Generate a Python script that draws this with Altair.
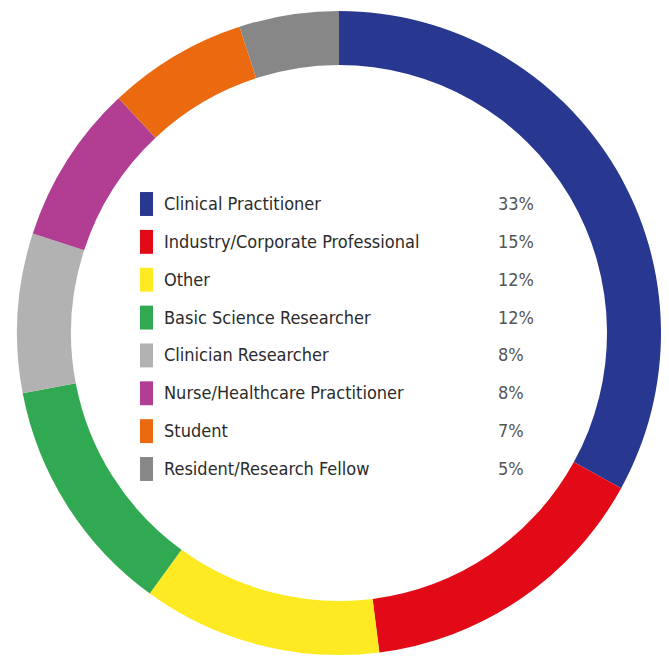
import altair as alt
import pandas as pd

categories = [
    "Clinical Practitioner",
    "Industry/Corporate Professional",
    "Other",
    "Basic Science Researcher",
    "Clinician Researcher",
    "Nurse/Healthcare Practitioner",
    "Student",
    "Resident/Research Fellow",
]
percents = [33, 15, 12, 12, 8, 8, 7, 5]
colors = ["#283891", "#E20A17", "#FDEA22", "#31A952", "#B2B2B2", "#B13E93", "#EB6A10", "#878787"]

df = pd.DataFrame({
    "category": categories,
    "pct": percents,
    "idx": list(range(len(categories))),
    "label": [f"{p}%" for p in percents],
})

W, H = 653, 651
CX, CY = 331, 325
R_OUT, R_IN = 322, 268
FONT = "DejaVu Sans Condensed, Roboto, sans-serif"

color_scale = alt.Scale(domain=categories, range=colors)

base = alt.Chart(df)

ring = base.mark_arc(radius=R_OUT, radius2=R_IN, stroke=None).encode(
    theta=alt.Theta("pct:Q", stack=True),
    order=alt.Order("idx:Q", sort="ascending"),
    color=alt.Color("category:N", scale=color_scale, legend=None),
    x=alt.value(CX),
    y=alt.value(CY),
)

yscale = alt.Scale(domain=[0, 7], range=[196, 461])

swatches = base.transform_calculate(
    y0="datum.idx - 0.316", y1="datum.idx + 0.316"
).mark_rect().encode(
    x=alt.value(132),
    x2=alt.value(145),
    y=alt.Y("y0:Q", scale=yscale, axis=None),
    y2="y1:Q",
    color=alt.Color("category:N", scale=color_scale, legend=None),
)

names = base.mark_text(
    align="left", baseline="middle", font=FONT,
    fontSize=18, color="#2b2b2b", dy=1,
).encode(
    x=alt.value(156),
    y=alt.Y("idx:Q", scale=yscale, axis=None),
    text="category:N",
)

pcts = base.mark_text(
    align="left", baseline="middle", font=FONT,
    fontSize=18, color="#555555", dy=1,
).encode(
    x=alt.value(490),
    y=alt.Y("idx:Q", scale=yscale, axis=None),
    text="label:N",
)

chart = alt.layer(ring, swatches, names, pcts).properties(
    width=W, height=H, padding=0, autosize=alt.AutoSizeParams(type="none"),
    background="white",
).configure_view(stroke=None)

chart.save("out.html", embed_options={"renderer": "svg", "actions": False})
